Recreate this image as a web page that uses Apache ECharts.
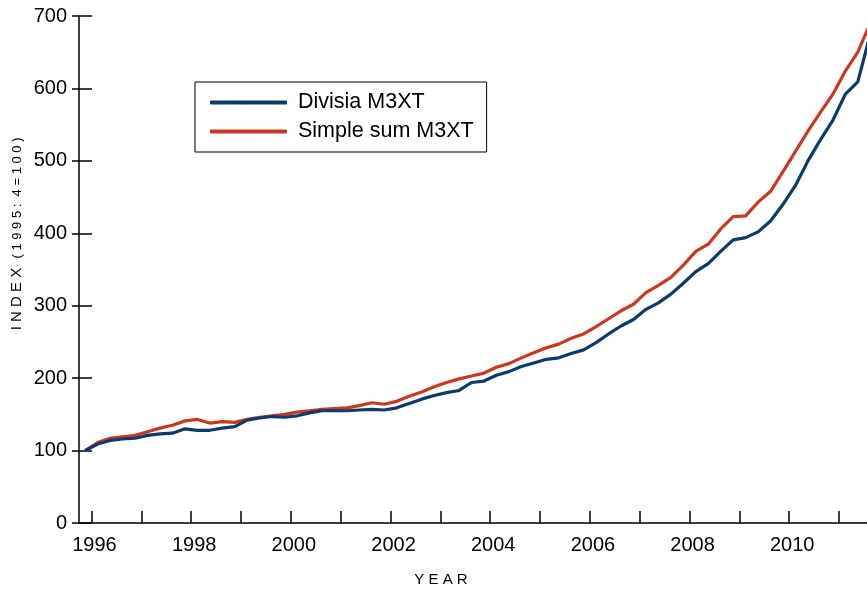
<!DOCTYPE html>
<html>
<head>
<meta charset="utf-8">
<script src="https://cdn.jsdelivr.net/npm/echarts@6/dist/echarts.min.js"></script>
<style>
html,body{margin:0;padding:0;background:#fff;}
#chart{width:867px;height:592px;}
</style>
</head>
<body>
<div id="chart"></div>
<script>
// Quarterly index, 1995 Q4 = 100, first observation 1995 Q4
var startYear = 1995;
var startQuarter = 4;
var seriesNames = ['Divisia M3XT', 'Simple sum M3XT'];
var divisia = [100,109,114,116,117,121,123,124,130,128,128,131,133,142,145,147,
  146,148,152,155,155,155,156,157,156,159,165,171,176,180,183,194,
  196,204,209,216,221,226,228,234,239,249,261,272,281,295,304,316,
  331,347,358,375,391,394,402,417,440,466,500,529,556,592,609,675];
var simpleSum = [100,111,117,119,121,126,131,135,141,143,138,140,139,143,146,148,
  150,153,155,157,158,159,162,166,164,168,175,181,188,194,199,203,
  207,215,220,228,235,242,247,255,261,271,282,293,302,318,328,339,
  356,375,385,406,423,424,443,458,485,513,541,567,592,624,650,690];
var yearTicks = [1996,1997,1998,1999,2000,2001,2002,2003,2004,2005,2006,2007,2008,2009,2010,2011];
var yearLabels = [1996,1998,2000,2002,2004,2006,2008,2010];
var yTicks = [0,100,200,300,400,500,600,700];

function toPairs(arr){
  return arr.map(function(v,i){
    var t = startYear + (startQuarter - 0.5)/4 + i*0.25;
    return [t, v];
  });
}

var FONT = 'Liberation Sans, Arial, Helvetica, sans-serif';
var chart = echarts.init(document.getElementById('chart'), null, {renderer:'canvas'});
var option = {
  animation:false,
  backgroundColor:'#fff',
  grid:{left:79, right:0, top:16, bottom:69, containLabel:false},
  legend:{
    orient:'vertical', left:195, top:82,
    padding:[9.5,13,9.5,15], itemGap:7,
    itemWidth:77, itemHeight:4, icon:'roundRect',
    borderColor:'#000', borderWidth:1, backgroundColor:'#fff',
    textStyle:{fontFamily:FONT, fontSize:21.5, color:'#000', lineHeight:21, padding:[0,0,0,6]},
    data:seriesNames
  },
  xAxis:{
    type:'value', min:1995.75, max:2011.56,
    axisLine:{show:true, onZero:false, lineStyle:{color:'#000', width:1.5}},
    axisTick:{show:true, inside:true, length:12, lineStyle:{color:'#000', width:1.5}, customValues:yearTicks},
    axisLabel:{show:true, customValues:yearLabels, margin:12, fontFamily:FONT, fontSize:20, color:'#000',
      padding:[0,0,0,6],
      formatter:function(v){return String(v);}},
    splitLine:{show:false}
  },
  yAxis:[{
    type:'value', min:0, max:700, interval:100,
    axisLine:{show:true, lineStyle:{color:'#000', width:1.5}},
    axisTick:{show:true, inside:true, length:13, lineStyle:{color:'#000', width:1.5}, customValues:yTicks},
    axisLabel:{show:true, margin:12, fontFamily:FONT, fontSize:20, color:'#000', customValues:yTicks,
      formatter:function(v){return String(v);}},
    splitLine:{show:false}
  },{
    type:'value', min:0, max:700, interval:100, position:'left',
    axisLine:{show:false},
    axisTick:{show:true, inside:false, length:7, lineStyle:{color:'#000', width:1.5}, customValues:yTicks},
    axisLabel:{show:false},
    splitLine:{show:false}
  }],
  graphic:[
    {type:'text', x:441, y:580, style:{text:'Y E A R', fontFamily:FONT, fontSize:15, fill:'#000', textAlign:'center', textVerticalAlign:'middle'}},
    {type:'text', x:17, y:299, rotation:Math.PI/2, style:{text:'I N D E X', fontFamily:FONT, fontSize:15, fill:'#000', textAlign:'center', textVerticalAlign:'middle'}},
    {type:'text', x:17, y:198, rotation:Math.PI/2, style:{text:'( 1 9 9 5 :  4 = 1 0 0 )', fontFamily:FONT, fontSize:13, fill:'#000', textAlign:'center', textVerticalAlign:'middle'}}
  ],
  series:[
    {name:seriesNames[0], type:'line', data:toPairs(divisia), showSymbol:false, symbol:'none', z:3,
      lineStyle:{color:'#0b3b6b', width:3.2, join:'round'}, itemStyle:{color:'#0b3b6b'}},
    {name:seriesNames[1], type:'line', data:toPairs(simpleSum), showSymbol:false, symbol:'none', z:2,
      lineStyle:{color:'#c9381f', width:3.2, join:'round'}, itemStyle:{color:'#c9381f'}}
  ]
};
chart.setOption(option);
</script>
</body>
</html>
